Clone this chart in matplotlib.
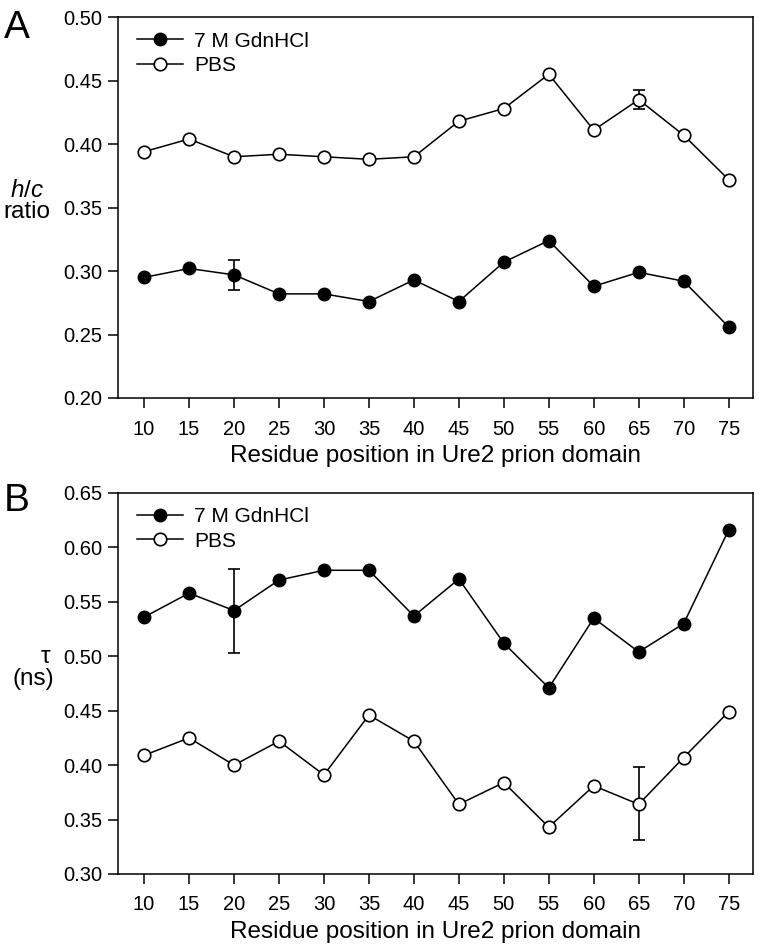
import matplotlib
matplotlib.use("Agg")
import matplotlib.pyplot as plt
import numpy as np

plt.rcParams['font.family'] = ['Liberation Sans', 'DejaVu Sans']
plt.rcParams['mathtext.fontset'] = 'custom'
plt.rcParams['mathtext.rm'] = 'Liberation Sans'
plt.rcParams['mathtext.it'] = 'Liberation Sans:italic'

# residue positions
residues = [10, 15, 20, 25, 30, 35, 40, 45, 50, 55, 60, 65, 70, 75]

# panel A: h/c ratio
hc_gdn = [0.295, 0.302, 0.297, 0.282, 0.282, 0.276, 0.293, 0.276, 0.307, 0.324, 0.288, 0.299, 0.292, 0.256]
hc_pbs = [0.394, 0.404, 0.390, 0.392, 0.390, 0.388, 0.390, 0.418, 0.428, 0.455, 0.411, 0.435, 0.407, 0.372]
hc_gdn_err = {20: (0.012, 0.012)}
hc_pbs_err = {65: (0.0075, 0.0075)}

# panel B: tau (ns)
tau_gdn = [0.536, 0.558, 0.542, 0.570, 0.579, 0.579, 0.537, 0.571, 0.512, 0.471, 0.535, 0.504, 0.530, 0.616]
tau_pbs = [0.409, 0.425, 0.400, 0.422, 0.391, 0.446, 0.422, 0.364, 0.384, 0.343, 0.381, 0.364, 0.407, 0.449]
tau_gdn_err = {20: (0.039, 0.038)}
tau_pbs_err = {65: (0.033, 0.034)}


def draw_panel(ax, gdn, pbs, gdn_err, pbs_err, ylim, yticks):
    ax.plot(residues, gdn, color='black', lw=1.1, marker='o', ms=9,
            mfc='black', mec='black', label='7 M GdnHCl', zorder=3)
    ax.plot(residues, pbs, color='black', lw=1.1, marker='o', ms=9,
            mfc='white', mec='black', mew=1.2, label='PBS', zorder=3)
    for vals, errs in ((gdn, gdn_err), (pbs, pbs_err)):
        for pos, (lo, hi) in errs.items():
            i = residues.index(pos)
            ax.errorbar([pos], [vals[i]], yerr=[[lo], [hi]], fmt='none',
                        ecolor='black', elinewidth=1.2, capsize=4.5, capthick=1.2, zorder=2)
    ax.set_xlim(7.1, 77.7)
    ax.set_ylim(*ylim)
    ax.set_xticks(residues)
    ax.set_yticks(yticks)
    ax.yaxis.set_major_formatter(matplotlib.ticker.FormatStrFormatter('%.2f'))
    ax.tick_params(direction='out', length=7, width=1.1, labelsize=14.5, top=False, right=False)
    ax.tick_params(axis='x', pad=8.5)
    ax.tick_params(axis='y', pad=4)
    for s in ax.spines.values():
        s.set_linewidth(1.1)
    ax.set_xlabel('Residue position in Ure2 prion domain', fontsize=17.5, labelpad=5)
    ax.legend(loc='upper left', frameon=False, fontsize=15, handlelength=2.2,
              handletextpad=0.55, borderpad=0, borderaxespad=0, labelspacing=0.25,
              bbox_to_anchor=(0.03, 0.962))


fig = plt.figure(figsize=(7.59, 9.51), dpi=100)
axA = fig.add_axes([0.1555, 0.5815, 0.8365, 0.4005])
axB = fig.add_axes([0.1555, 0.081, 0.8365, 0.4006])

draw_panel(axA, hc_gdn, hc_pbs, hc_gdn_err, hc_pbs_err, (0.20, 0.50), np.arange(0.20, 0.501, 0.05))
draw_panel(axB, tau_gdn, tau_pbs, tau_gdn_err, tau_pbs_err, (0.30, 0.65), np.arange(0.30, 0.651, 0.05))

axA.set_ylabel('$\\it{h}$/$\\it{c}$\nratio', rotation=0, fontsize=17.5, ha='center', va='center',
               linespacing=0.95)
axA.yaxis.set_label_coords(-0.143, 0.517)

# tau sits a little right of the centre of "(ns)" in the original
axB.set_ylabel('(ns)', rotation=0, fontsize=17.5, ha='center', va='center')
axB.yaxis.set_label_coords(-0.134, 0.513)
axB.text(-0.115, 0.57, '\u03c4', transform=axB.transAxes, fontsize=17.5,
         ha='center', va='center')

fig.text(0.005, 0.99, 'A', fontsize=28, ha='left', va='top')
fig.text(0.005, 0.492, 'B', fontsize=28, ha='left', va='top')

fig.savefig('out.png', dpi=100)
